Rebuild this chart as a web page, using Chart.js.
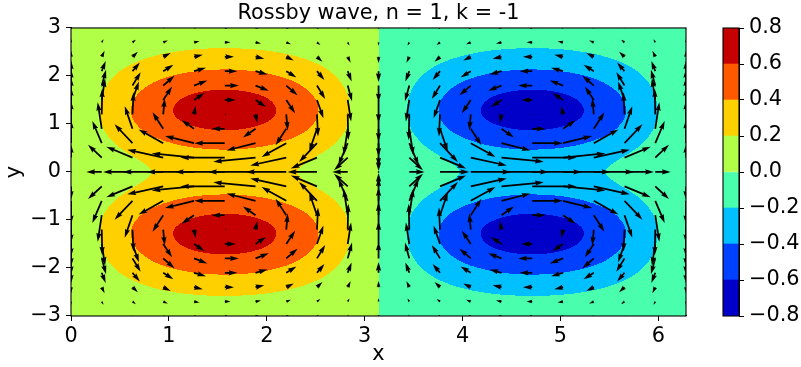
<!DOCTYPE html>
<html>
<head>
<meta charset="utf-8">
<script src="https://cdn.jsdelivr.net/npm/chart.js@4.4.1/dist/chart.umd.min.js"></script>
<style>
  body { margin: 0; background: #fff; }
  #wrap { position: relative; width: 801px; height: 367px; }
  #cbar { position: absolute; left: 690px; top: 0; }
  #main { position: absolute; left: 0; top: 0; }
</style>
</head>
<body>
<div id="wrap">
  <canvas id="main" width="801" height="367"></canvas>
  <canvas id="cbar" width="111" height="367"></canvas>
</div>
<script>
// contour levels and jet colours of the bands between them
var levels = [-0.8, -0.6, -0.4, -0.2, 0.0, 0.2, 0.4, 0.6, 0.8];
var bandColors = ['#0000c8', '#0041ff', '#00c0ff', '#49ffad', '#b1ff46', '#ffd000', '#ff5900', '#c40000'];

var xTicks = [0, 1, 2, 3, 4, 5, 6];
var yTicks = [-3, -2, -1, 0, 1, 2, 3];
var cbarTicks = [-0.8, -0.6, -0.4, -0.2, 0.0, 0.2, 0.4, 0.6, 0.8];

// quiver grid
var quiverX = [0, 0.314, 0.628, 0.942, 1.257, 1.571, 1.885, 2.199, 2.513, 2.827, 3.142,
               3.456, 3.770, 4.084, 4.398, 4.712, 5.027, 5.341, 5.655, 5.969, 6.283];
var quiverY = [-3.0, -2.7, -2.4, -2.1, -1.8, -1.5, -1.2, -0.9, -0.6, -0.3, 0.0,
               0.3, 0.6, 0.9, 1.2, 1.5, 1.8, 2.1, 2.4, 2.7, 3.0];

// wave phase along x (for height and u) and for v
var phaseX  = [0, 0.309, 0.588, 0.809, 0.951, 1, 0.951, 0.809, 0.588, 0.309, 0,
               -0.309, -0.588, -0.809, -0.951, -1, -0.951, -0.809, -0.588, -0.309, 0];
var phaseXv = [1, 0.951, 0.809, 0.588, 0.309, 0, -0.309, -0.588, -0.809, -0.951, -1,
               -0.951, -0.809, -0.588, -0.309, 0, 0.309, 0.588, 0.809, 0.951, 1];

// meridional structure at the quiver rows
var phiRow = [0.083, 0.159, 0.273, 0.418, 0.565, 0.670, 0.691, 0.612, 0.466, 0.328, 0.272,
              0.328, 0.466, 0.612, 0.691, 0.670, 0.565, 0.418, 0.273, 0.159, 0.083];
var uRow = [0.068, 0.124, 0.198, 0.270, 0.300, 0.235, 0.038, -0.282, -0.653, -0.953, -1.069,
            -0.953, -0.653, -0.282, 0.038, 0.235, 0.300, 0.270, 0.198, 0.124, 0.068];
var vRow = [-0.033, -0.071, -0.135, -0.232, -0.356, -0.487, -0.584, -0.600, -0.501, -0.287, 0,
            0.287, 0.501, 0.600, 0.584, 0.487, 0.356, 0.232, 0.135, 0.071, 0.033];

var FONT = 'DejaVu Sans';
var FS = 20.8;

function fmt(v) {
  return String(v).replace('-', '\u2212');
}

// catmull-rom along a uniform grid
function smooth(grid, vals, v) {
  var n = grid.length;
  var t = (v - grid[0]) / (grid[n - 1] - grid[0]) * (n - 1);
  var i = Math.floor(t);
  if (i < 0) i = 0;
  if (i > n - 2) i = n - 2;
  var f = t - i;
  var p1 = vals[i], p2 = vals[i + 1];
  var p0 = i > 0 ? vals[i - 1] : 2 * p1 - p2;
  var p3 = i + 2 < n ? vals[i + 2] : 2 * p2 - p1;
  return 0.5 * ((2 * p1) + (-p0 + p2) * f + (2 * p0 - 5 * p1 + 4 * p2 - p3) * f * f +
                (-p0 + 3 * p1 - 3 * p2 + p3) * f * f * f);
}

function hexRgb(h) {
  return [parseInt(h.substr(1, 2), 16), parseInt(h.substr(3, 2), 16), parseInt(h.substr(5, 2), 16)];
}

var quiverPoints = [];
quiverY.forEach(function (yv, j) {
  quiverX.forEach(function (xv, i) {
    quiverPoints.push({ x: xv, y: yv, u: uRow[j] * phaseX[i], v: vRow[j] * phaseXv[i] });
  });
});

var fieldPlugin = {
  id: 'field',
  beforeDatasetsDraw: function (chart) {
    var a = chart.chartArea, sx = chart.scales.x, sy = chart.scales.y;
    var w = Math.round(a.right - a.left), h = Math.round(a.bottom - a.top);
    var off = document.createElement('canvas');
    off.width = w; off.height = h;
    var octx = off.getContext('2d');
    var img = octx.createImageData(w, h);
    var rgb = bandColors.map(hexRgb);
    var cols = [], rows = [];
    for (var px = 0; px < w; px++) cols.push(smooth(quiverX, phaseX, sx.getValueForPixel(a.left + px + 0.5)));
    for (var py = 0; py < h; py++) rows.push(smooth(quiverY, phiRow, sy.getValueForPixel(a.top + py + 0.5)));
    for (py = 0; py < h; py++) {
      for (px = 0; px < w; px++) {
        var phi = cols[px] * rows[py];
        var k = 0;
        while (k < bandColors.length - 1 && phi >= levels[k + 1]) k++;
        var o = (py * w + px) * 4;
        img.data[o] = rgb[k][0]; img.data[o + 1] = rgb[k][1]; img.data[o + 2] = rgb[k][2]; img.data[o + 3] = 255;
      }
    }
    octx.putImageData(img, 0, 0);
    chart.ctx.drawImage(off, a.left, a.top);
  },
  afterDatasetsDraw: function (chart) {
    var ctx = chart.ctx, a = chart.chartArea;
    var meta = chart.getDatasetMeta(0);
    var pts = chart.data.datasets[0].data;
    var span = a.right - a.left;
    var N = pts.length;
    var amean = 0;
    pts.forEach(function (p) { amean += Math.hypot(p.u, p.v); });
    amean /= N;
    var sn = Math.max(10, Math.sqrt(N));
    var pxPerUnit = span / (1.8 * amean * sn);
    var shaft = 0.06 * span / Math.min(25, Math.max(8, Math.sqrt(N)));

    ctx.save();
    ctx.beginPath();
    ctx.rect(a.left, a.top, a.right - a.left, a.bottom - a.top);
    ctx.clip();
    ctx.fillStyle = '#000';
    meta.data.forEach(function (el, k) {
      var p = pts[k];
      var mag = Math.hypot(p.u, p.v);
      var L = mag * pxPerUnit / shaft;
      var poly;
      if (L < 1) {
        poly = [];
        for (var q = 0; q < 7; q++) poly.push([0.5 * Math.cos(q * Math.PI / 3), 0.5 * Math.sin(q * Math.PI / 3)]);
      } else if (L < 5) {
        var s = L / 5;
        poly = [[0, 0.5], [0.5, 0.5], [0, 1.5], [5, 0], [0, -1.5], [0.5, -0.5], [0, -0.5]].map(function (c) {
          return [c[0] * s, c[1] * s];
        });
      } else {
        poly = [[0, 0.5], [L - 4.5, 0.5], [L - 5, 1.5], [L, 0], [L - 5, -1.5], [L - 4.5, -0.5], [0, -0.5]];
      }
      var th = Math.atan2(p.v, p.u), c = Math.cos(th), sn2 = Math.sin(th);
      ctx.beginPath();
      poly.forEach(function (q, m) {
        var X = el.x + shaft * (q[0] * c - q[1] * sn2);
        var Y = el.y - shaft * (q[0] * sn2 + q[1] * c);
        if (m === 0) ctx.moveTo(X, Y); else ctx.lineTo(X, Y);
      });
      ctx.closePath();
      ctx.fill();
    });
    ctx.restore();

    ctx.save();
    ctx.strokeStyle = '#000';
    ctx.lineWidth = 1.1;
    ctx.strokeRect(a.left, a.top, a.right - a.left, a.bottom - a.top);
    ctx.restore();
  }
};

new Chart(document.getElementById('main'), {
  type: 'scatter',
  data: {
    datasets: [{
      label: 'quiver',
      data: quiverPoints,
      pointRadius: 0,
      pointHoverRadius: 0
    }]
  },
  options: {
    responsive: false,
    animation: false,
    events: [],
    layout: { padding: { left: 0, right: 115, top: 0, bottom: 0 } },
    plugins: {
      legend: { display: false },
      tooltip: { enabled: false },
      title: {
        display: true,
        text: 'Rossby wave, n = 1, k = -1',
        fullSize: false,
        color: '#000',
        font: { family: FONT, size: FS, weight: 'normal' },
        padding: { top: 1, bottom: 2 }
      }
    },
    scales: {
      x: {
        type: 'linear',
        min: 0,
        max: 6.283,
        afterBuildTicks: function (s) { s.ticks = xTicks.map(function (v) { return { value: v }; }); },
        afterFit: function (s) { s.height = 51; },
        ticks: { color: '#000', font: { family: FONT, size: FS }, padding: 3, maxRotation: 0,
                 callback: function (v) { return fmt(v); } },
        grid: { drawOnChartArea: false, drawTicks: true, tickLength: 5, color: '#000' },
        border: { display: true, color: '#000' },
        title: { display: true, text: 'x', color: '#000', font: { family: FONT, size: FS }, padding: 0 }
      },
      y: {
        type: 'linear',
        min: -3,
        max: 3,
        afterBuildTicks: function (s) { s.ticks = yTicks.map(function (v) { return { value: v }; }); },
        afterFit: function (s) { s.width = 71; },
        ticks: { color: '#000', font: { family: FONT, size: FS }, padding: 5,
                 callback: function (v) { return fmt(v); } },
        grid: { drawOnChartArea: false, drawTicks: true, tickLength: 5, color: '#000' },
        border: { display: true, color: '#000' },
        title: { display: true, text: 'y', color: '#000', font: { family: FONT, size: FS }, padding: { top: 2, bottom: 0 } }
      }
    }
  },
  plugins: [fieldPlugin]
});

// colour bar
var cbarFrame = {
  id: 'cbarFrame',
  afterDatasetsDraw: function (chart) {
    var a = chart.chartArea, ctx = chart.ctx;
    ctx.save();
    ctx.strokeStyle = '#000';
    ctx.lineWidth = 1.1;
    ctx.strokeRect(a.left, a.top, a.right - a.left, a.bottom - a.top);
    ctx.restore();
  }
};

new Chart(document.getElementById('cbar'), {
  type: 'bar',
  data: {
    labels: [''],
    datasets: bandColors.map(function (c, k) {
      return {
        label: fmt(levels[k].toFixed(1)),
        data: [[levels[k], levels[k + 1]]],
        backgroundColor: c,
        borderWidth: 0,
        grouped: false,
        barPercentage: 1,
        categoryPercentage: 1
      };
    })
  },
  options: {
    responsive: false,
    animation: false,
    events: [],
    layout: { padding: { left: 33, top: 28, bottom: 51, right: 0 } },
    plugins: { legend: { display: false }, tooltip: { enabled: false } },
    scales: {
      x: { display: false },
      y: {
        position: 'right',
        min: -0.8,
        max: 0.8,
        afterBuildTicks: function (s) { s.ticks = cbarTicks.map(function (v) { return { value: v }; }); },
        afterFit: function (s) { s.width = 62; },
        ticks: { color: '#000', font: { family: FONT, size: FS }, padding: 5,
                 callback: function (v) { return fmt(v.toFixed(1)); } },
        grid: { drawOnChartArea: false, drawTicks: true, tickLength: 5, color: '#000' },
        border: { display: true, color: '#000' }
      }
    }
  },
  plugins: [cbarFrame]
});
</script>
</body>
</html>
